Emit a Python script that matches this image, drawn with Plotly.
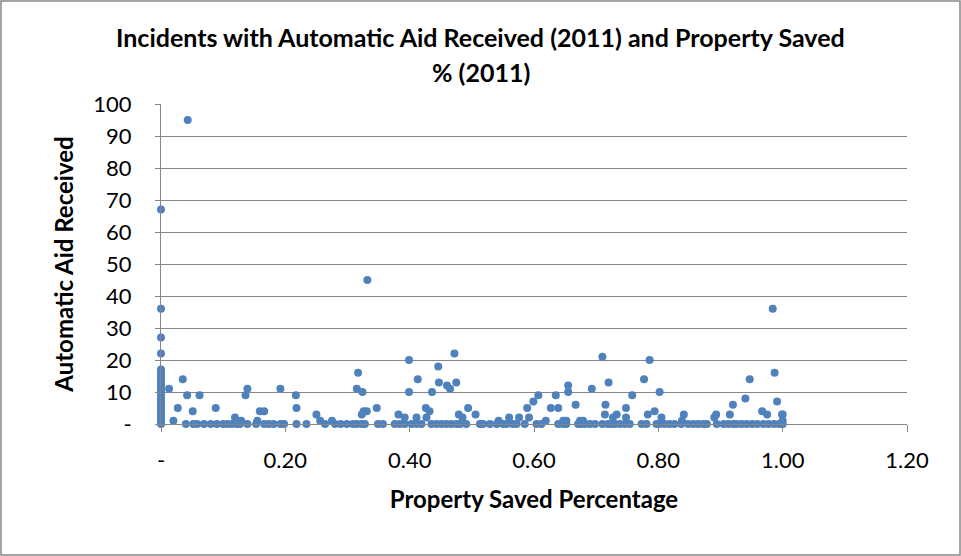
import plotly.graph_objs as go

# property saved percentage (x) and automatic aid received (y)
prop_saved = [
    0, 0, 0, 0, 0, 0, 0, 0, 0, 0, 0, 0, 0, 0, 0, 0, 0, 0, 0, 0, 0, 0,
    0.043, 0.035, 0.013, 0.042, 0.062, 0.027, 0.051, 0.088, 0.02, 0.119, 0.129, 0.136, 0.139,
    0.159, 0.166, 0.155, 0.192, 0.217, 0.218, 0.25, 0.256, 0.275, 0.317, 0.315, 0.324, 0.323,
    0.326, 0.331, 0.332, 0.347, 0.399, 0.399, 0.382, 0.392, 0.413, 0.411, 0.426, 0.432, 0.427,
    0.436, 0.446, 0.447, 0.46, 0.465, 0.472, 0.475, 0.479, 0.485, 0.494, 0.506, 0.543, 0.56,
    0.576, 0.589, 0.592, 0.599, 0.607, 0.619, 0.627, 0.635, 0.639, 0.655, 0.655, 0.647, 0.667,
    0.693, 0.71, 0.72, 0.715, 0.714, 0.733, 0.748, 0.748, 0.758, 0.777, 0.786, 0.783, 0.794,
    0.802, 0.805, 0.841, 0.838, 0.89, 0.893, 0.915, 0.92, 0.94, 0.947, 0.967, 0.975, 0.984,
    0.987, 0.991, 0.999, 0.652, 0.674, 0.679, 0.727, 1.0, 1.0,
    0.04, 0.052, 0.058, 0.069, 0.08, 0.09, 0.1, 0.107, 0.114, 0.122, 0.127, 0.139, 0.153, 0.166,
    0.173, 0.181, 0.192, 0.198, 0.218, 0.234, 0.264, 0.28, 0.289, 0.299, 0.309, 0.315, 0.323,
    0.328, 0.349, 0.357, 0.376, 0.384, 0.392, 0.403, 0.411, 0.419, 0.435, 0.443, 0.451, 0.459,
    0.467, 0.475, 0.481, 0.491, 0.513, 0.518, 0.529, 0.54, 0.55, 0.556, 0.566, 0.572, 0.585,
    0.604, 0.612, 0.639, 0.647, 0.652, 0.671, 0.676, 0.682, 0.69, 0.698, 0.71, 0.719, 0.725,
    0.73, 0.738, 0.746, 0.754, 0.773, 0.781, 0.797, 0.802, 0.81, 0.818, 0.826, 0.837, 0.848,
    0.856, 0.864, 0.872, 0.878, 0.894, 0.905, 0.913, 0.921, 0.926, 0.934, 0.942, 0.951, 0.959,
    0.969, 0.977, 0.986, 0.994, 0.999, 1.0,
]
aid_received = [
    0, 1, 2, 3, 4, 5, 6, 7, 8, 9, 10, 11, 12, 13, 14, 15, 16, 17, 22, 27, 36, 67,
    95, 14, 11, 9, 9, 5, 4, 5, 1, 2, 1, 9, 11,
    4, 4, 1, 11, 9, 5, 3, 1, 1, 16, 11, 10, 3,
    4, 4, 45, 5, 20, 10, 3, 2, 14, 2, 5, 4, 2,
    10, 18, 13, 12, 11, 22, 13, 3, 2, 5, 3, 1, 2,
    2, 5, 2, 7, 9, 1, 5, 9, 5, 12, 10, 1, 6,
    11, 21, 13, 6, 3, 3, 5, 2, 9, 14, 20, 3, 4,
    10, 2, 3, 1, 2, 3, 3, 6, 8, 14, 4, 3, 36,
    16, 7, 3, 1, 1, 1, 2, 3, 1,
    0, 0, 0, 0, 0, 0, 0, 0, 0, 0, 0, 0, 0, 0,
    0, 0, 0, 0, 0, 0, 0, 0, 0, 0, 0, 0, 0,
    0, 0, 0, 0, 0, 0, 0, 0, 0, 0, 0, 0, 0, 0,
    0, 0, 0, 0, 0, 0, 0, 0, 0, 0, 0, 0, 0,
    0, 0, 0, 0, 0, 0, 0, 0, 0, 0, 0, 0, 0,
    0, 0, 0, 0, 0, 0, 0, 0, 0, 0, 0, 0, 0,
    0, 0, 0, 0, 0, 0, 0, 0, 0, 0, 0, 0, 0,
    0, 0, 0, 0, 0, 0,
]

x_ticks = [0, 0.2, 0.4, 0.6, 0.8, 1.0, 1.2]
x_tick_text = ['-', '0.20', '0.40', '0.60', '0.80', '1.00', '1.20']
y_ticks = [0, 10, 20, 30, 40, 50, 60, 70, 80, 90, 100]
y_tick_text = ['-', '10', '20', '30', '40', '50', '60', '70', '80', '90', '100']

grey = '#868686'
font = 'Lato, Calibri, sans-serif'

fig = go.Figure()
fig.add_trace(go.Scatter(x=prop_saved, y=aid_received, mode='markers', cliponaxis=False,
                         marker=dict(size=8, color='#4F81BD', line=dict(width=0))))

fig.update_layout(
    width=961, height=556, showlegend=False,
    paper_bgcolor='white', plot_bgcolor='white',
    margin=dict(l=161, r=54, t=104, b=132),
    font=dict(family=font, color='black'),
    xaxis=dict(range=[0, 1.2], tickvals=x_ticks, ticktext=x_tick_text, showgrid=False,
               zeroline=False, showline=True, linecolor=grey, linewidth=1,
               ticks='outside', ticklen=7, tickcolor=grey, tickfont=dict(size=22),
               ticklabelstandoff=10,
               title=dict(text='<b>Property Saved Percentage</b>', font=dict(size=24), standoff=18)),
    yaxis=dict(range=[0, 100], tickvals=y_ticks, ticktext=y_tick_text, showgrid=True,
               gridcolor=grey, gridwidth=1, zeroline=False, showline=True, linecolor=grey,
               linewidth=1, ticks='outside', ticklen=5, tickcolor=grey, tickfont=dict(size=22),
               ticklabelstandoff=19,
               title=dict(text='<b>Automatic Aid Received</b>', font=dict(size=24), standoff=12)),
)

fig.add_annotation(text='<b>Incidents with Automatic Aid Received (2011) and Property Saved</b>',
                   xref='paper', yref='paper', x=0.4283, y=(424 - 37) / 320, yanchor='middle',
                   showarrow=False, font=dict(size=25))
fig.add_annotation(text='<b>% (2011)</b>', xref='paper', yref='paper', x=0.4283,
                   y=(424 - 72) / 320, yanchor='middle', showarrow=False, font=dict(size=25))

# outer chart border
fig.add_shape(type='rect', xref='paper', yref='paper',
              x0=-160 / 746, x1=799 / 746, y0=-131 / 320, y1=423 / 320,
              line=dict(color=grey, width=1.5))

fig.write_html("out.html", config={'displayModeBar': False},
               post_script="document.body.style.margin='0';")
